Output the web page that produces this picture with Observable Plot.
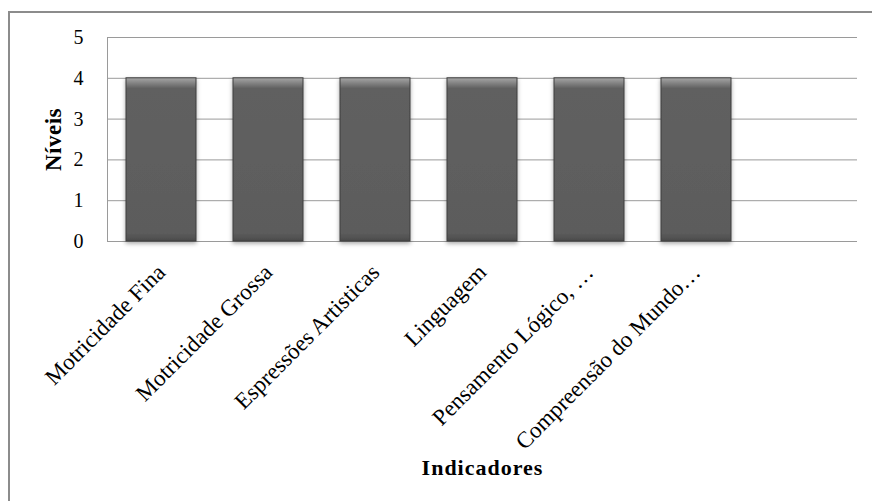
<!DOCTYPE html>
<html>
<head>
<meta charset="utf-8">
<script src="https://cdn.jsdelivr.net/npm/d3@7"></script>
<script src="https://cdn.jsdelivr.net/npm/@observablehq/plot@0.6"></script>
<style>
  html, body { margin: 0; padding: 0; background: #fff; overflow: hidden; }
  #wrap { position: relative; width: 872px; height: 501px; overflow: hidden; }
  #edge { position: absolute; left: 8px; top: 11px; width: 900px; height: 600px;
          border-left: 2px solid #8c8c8c; border-top: 2px solid #8c8c8c; box-sizing: border-box; }
  #chart { position: absolute; left: 0; top: 0; }
</style>
</head>
<body>
<div id="wrap"><div id="edge"></div><div id="chart"></div></div>
<script>
// Indicators and their levels
const indicadores = [
  "Motricidade Fina",
  "Motricidade Grossa",
  "Espressões Artisticas",
  "Linguagem",
  "Pensamento Lógico, …",
  "Compreensão do Mundo…"
];
const niveis = [4, 4, 4, 4, 4, 4];
const yTicks = [0, 1, 2, 3, 4, 5];
// an empty trailing slot keeps room on the right of the last bar
const xDomain = [...indicadores, " "];

const data = indicadores.map((d, i) => ({indicador: d, nivel: niveis[i]}));

const serif = "'Liberation Serif', 'Times New Roman', serif";

const plot = Plot.plot({
  width: 872,
  height: 501,
  marginLeft: 107,
  marginRight: 15,
  marginTop: 37,
  marginBottom: 260,
  style: {fontFamily: serif, background: "transparent", color: "#000"},
  x: {domain: xDomain, paddingInner: 0.345, paddingOuter: 0.1725},
  y: {domain: [0, 5]},
  marks: [
    Plot.gridY(yTicks, {stroke: "#9a9a9a", strokeOpacity: 1, strokeWidth: 1}),
    Plot.frame({anchor: "left", stroke: "#9a9a9a"}),
    Plot.barY(data, {x: "indicador", y: "nivel", fill: "url(#barFill)", stroke: "#3e3e3e", strokeWidth: 1}),
    Plot.axisY(yTicks, {
      tickSize: 0, tickPadding: 24, fontSize: 20, tickFormat: d => String(d),
      label: "Níveis", labelArrow: "none", labelAnchor: "center", labelOffset: 63
    }),
    Plot.axisX({
      tickSize: 0, tickPadding: 27, tickRotate: -45, fontSize: 23, dx: 0,
      label: "Indicadores", labelArrow: "none", labelAnchor: "center", labelOffset: 233
    })
  ]
});

document.getElementById("chart").appendChild(plot);

// shading for the bars: lighter bevel on top, darker foot
const svg = d3.select(plot);
const defs = svg.insert("defs", ":first-child");
const g = defs.append("linearGradient").attr("id", "barFill")
  .attr("x1", 0).attr("y1", 0).attr("x2", 0).attr("y2", 1);
[[0, "#a6a6a6"], [0.05, "#707070"], [0.065, "#606060"], [0.95, "#5c5c5c"], [1, "#4b4b4b"]]
  .forEach(([o, c]) => g.append("stop").attr("offset", o).attr("stop-color", c));
const f = defs.append("filter").attr("id", "barShadow")
  .attr("x", "-20%").attr("y", "-10%").attr("width", "140%").attr("height", "120%");
f.append("feDropShadow").attr("dx", 0).attr("dy", 2).attr("stdDeviation", 2)
  .attr("flood-color", "#000").attr("flood-opacity", 0.35);
svg.select("g[aria-label=bar]").attr("filter", "url(#barShadow)");

// bold axis titles, no arrows
svg.select("g[aria-label='y-axis label'] text").text("Níveis")
  .attr("font-weight", "bold").attr("font-size", 23).attr("letter-spacing", 0.5);
svg.select("g[aria-label='x-axis label'] text").text("Indicadores")
  .attr("font-weight", "bold").attr("font-size", 22).attr("letter-spacing", 1);
</script>
</body>
</html>
